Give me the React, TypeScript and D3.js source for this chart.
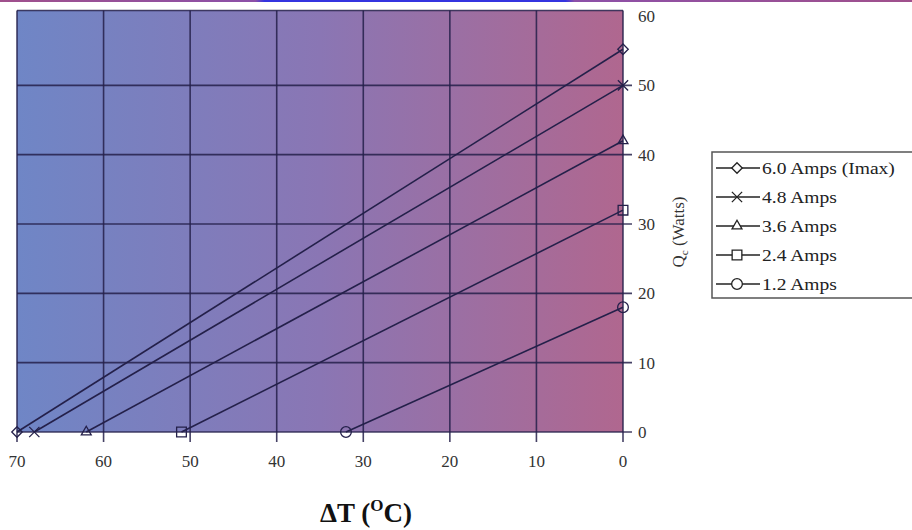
import React, { useEffect, useRef } from 'react';
import * as d3 from 'd3';

// Cooling capacity Qc vs temperature difference, one straight line per current
const seriesNames = ['6.0 Amps (Imax)', '4.8 Amps', '3.6 Amps', '2.4 Amps', '1.2 Amps'];
// deltaT where Qc drops to zero
const dtAtZero = [70, 68, 62, 51, 32];
// Qc at deltaT = 0
const qcAtZero = [55.2, 50, 42, 32, 18];
const markerKinds = ['diamond', 'times', 'triangle', 'square', 'circle'];
const xTicks = [70, 60, 50, 40, 30, 20, 10, 0];
const yTicks = [0, 10, 20, 30, 40, 50, 60];

const symbolFor = (kind: string) => {
    if (kind === 'diamond') return d3.symbol(d3.symbolDiamond2, 70);
    if (kind === 'times') return d3.symbol(d3.symbolTimes, 70);
    if (kind === 'triangle') return d3.symbol(d3.symbolTriangle2, 70);
    if (kind === 'square') return d3.symbol(d3.symbolSquare2, 120);
    return d3.symbol(d3.symbolCircle, 90);
};

const App = () => {
    const svgRef = useRef<SVGSVGElement | null>(null);

    useEffect(() => {
        const width = 912;
        const height = 530;
        const left = 17;
        const right = 623;
        const top = 10.5;
        const bottom = 432;
        const font = '"Liberation Serif", "DejaVu Serif", serif';
        const ink = '#24204a';

        const svg = d3.select(svgRef.current);
        svg.selectAll('*').remove();
        svg.attr('width', width).attr('height', height);

        const defs = svg.append('defs');
        const bg = defs.append('linearGradient').attr('id', 'plotBg');
        bg.append('stop').attr('offset', '0%').attr('stop-color', '#6f86c6');
        bg.append('stop').attr('offset', '50%').attr('stop-color', '#8a76b4');
        bg.append('stop').attr('offset', '100%').attr('stop-color', '#b0678f');

        const strip = defs.append('linearGradient').attr('id', 'topStrip');
        [
            ['0%', '#a0508c'], ['28%', '#8c50a8'], ['29%', '#3434e0'],
            ['62%', '#3434e0'], ['63%', '#8c50a8'], ['100%', '#a0508c'],
        ].forEach(([o, c]) => strip.append('stop').attr('offset', o).attr('stop-color', c));

        svg.append('rect').attr('x', 0).attr('y', 0).attr('width', width).attr('height', 2)
            .attr('fill', 'url(#topStrip)');

        const x = d3.scaleLinear().domain([70, 0]).range([left, right]);
        const y = d3.scaleLinear().domain([0, 60]).range([bottom, 16]);

        // plot area
        svg.append('rect')
            .attr('x', left).attr('y', top)
            .attr('width', right - left).attr('height', bottom - top)
            .attr('fill', 'url(#plotBg)');

        // grid + ticks
        const grid = svg.append('g').attr('stroke', ink).attr('stroke-width', 1.6).attr('stroke-opacity', 0.85);
        xTicks.forEach(t => {
            grid.append('line')
                .attr('x1', x(t)).attr('x2', x(t))
                .attr('y1', top).attr('y2', bottom + 10);
        });
        yTicks.filter(t => t < 60).forEach(t => {
            grid.append('line')
                .attr('x1', left).attr('x2', right + 9)
                .attr('y1', y(t)).attr('y2', y(t));
        });
        grid.append('line').attr('x1', left).attr('x2', right).attr('y1', top).attr('y2', top);

        // tick labels
        svg.append('g')
            .selectAll('text')
            .data(xTicks)
            .join('text')
            .attr('x', d => x(d))
            .attr('y', 467)
            .attr('text-anchor', 'middle')
            .style('font-family', font)
            .style('font-size', '17px')
            .style('fill', '#333')
            .text(d => d);

        svg.append('g')
            .selectAll('text')
            .data(yTicks)
            .join('text')
            .attr('x', 638)
            .attr('y', d => y(d) + 6)
            .style('font-family', font)
            .style('font-size', '17px')
            .style('fill', '#333')
            .text(d => d);

        // axis titles
        const xTitle = svg.append('text')
            .attr('x', 366).attr('y', 522)
            .attr('text-anchor', 'middle')
            .style('font-family', font)
            .style('font-size', '27px')
            .style('font-weight', 'bold')
            .style('fill', '#111');
        xTitle.append('tspan').text('\u0394T (');
        xTitle.append('tspan').attr('dy', -11).style('font-size', '17px').text('O');
        xTitle.append('tspan').attr('dy', 11).text('C)');

        const yTitle = svg.append('text')
            .attr('transform', 'translate(684, 232) rotate(-90)')
            .attr('text-anchor', 'middle')
            .style('font-family', font)
            .style('font-size', '17px')
            .style('fill', '#333');
        yTitle.append('tspan').text('Q');
        yTitle.append('tspan').attr('dy', 4).style('font-size', '11px').text('c');
        yTitle.append('tspan').attr('dy', -4).text(' (Watts)');

        // series lines with end markers
        const line = d3.line<[number, number]>().x(d => x(d[0])).y(d => y(d[1]));
        seriesNames.forEach((name, i) => {
            const pts: [number, number][] = [[dtAtZero[i], 0], [0, qcAtZero[i]]];
            svg.append('path')
                .attr('d', line(pts))
                .attr('fill', 'none')
                .attr('stroke', ink)
                .attr('stroke-width', 1.6);
            pts.forEach(p => {
                svg.append('path')
                    .attr('d', symbolFor(markerKinds[i])())
                    .attr('transform', `translate(${x(p[0])}, ${y(p[1])})`)
                    .attr('fill', 'none')
                    .attr('stroke', ink)
                    .attr('stroke-width', 1.3);
            });
        });

        // legend
        const legend = svg.append('g').attr('transform', 'translate(712, 152)');
        legend.append('rect')
            .attr('x', 0).attr('y', 0).attr('width', 215).attr('height', 146)
            .attr('fill', '#fff').attr('stroke', '#555').attr('stroke-width', 1.5);
        seriesNames.forEach((name, i) => {
            const ly = 16 + i * 29;
            legend.append('line')
                .attr('x1', 4).attr('x2', 48).attr('y1', ly).attr('y2', ly)
                .attr('stroke', '#222').attr('stroke-width', 1.4);
            legend.append('path')
                .attr('d', symbolFor(markerKinds[i])())
                .attr('transform', `translate(25, ${ly})`)
                .attr('fill', '#fff')
                .attr('stroke', '#222')
                .attr('stroke-width', 1.3);
            legend.append('text')
                .attr('transform', `translate(50, ${ly + 6}) scale(1.15, 1)`)
                .style('font-family', font)
                .style('font-size', '17px')
                .style('fill', '#222')
                .text(name);
        });
    }, []);

    return (
        <div style={{ position: 'absolute', left: 0, top: 0 }}>
            <svg ref={svgRef} style={{ display: 'block' }}></svg>
        </div>
    );
};

export default App;
